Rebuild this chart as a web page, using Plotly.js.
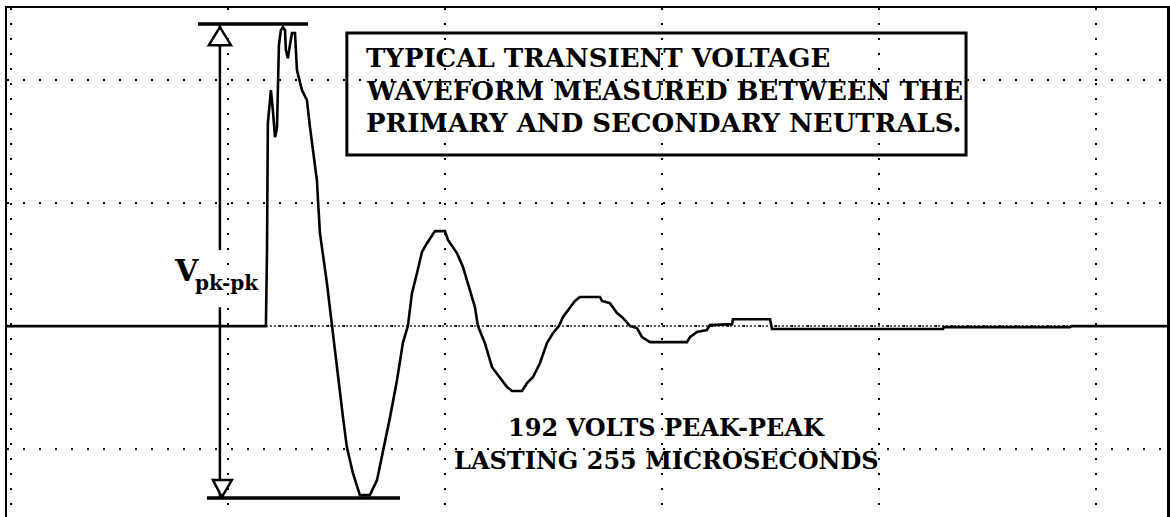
<!DOCTYPE html>
<html>
<head>
<meta charset="utf-8">
<script src="https://cdn.plot.ly/plotly-3.0.1.min.js"></script>
<style>
  html, body { margin: 0; padding: 0; background: #fff; }
  #chart { width: 1170px; height: 517px; }
</style>
</head>
<body>
<div id="chart"></div>
<script>
// ---- Data (time in microseconds, voltage in volts) ----
const timeUs = [
  -102, 17.5, 18.0, 18.4, 19.4, 19.8, 20.7, 21.7, 22.6, 23.0, 23.5, 24.4, 25.3, 26.3, 26.7,
  27.6, 28.6, 29.5, 30.9, 31.8, 34.1, 36.4, 37.8, 39.2, 41.0, 41.5, 42.4, 45.6, 47.9, 50.2,
  53.0, 54.8, 57.6, 60.8, 65.4, 68.7, 71.9, 74.7, 77.9, 80.6, 82.9, 84.8, 87.1, 89.4, 91.7,
  94.5, 95.4, 100.0, 101.4, 105.5, 108.3, 111.5, 113.8, 115.2, 118.4, 121.7, 125.3, 128.6, 130.9, 135.5,
  137.8, 140.6, 143.8, 147.0, 149.8, 152.5, 154.4, 157.6, 159.9, 162.2, 171.4, 172.4, 176.0, 179.3, 182.0,
  185.3, 188.5, 190.8, 194.5, 211.5, 212.9, 216.1, 220.7, 222.1, 232.3, 232.7, 249.8, 250.7, 329.5, 329.9,
  388.0, 388.9, 433
];
const voltsV = [
  0, 0, 30.9, 82.5, 91.9, 95.9, 87.8, 76.8, 80.5, 95.9, 114.2, 120.3, 121.5, 120.3, 112.2,
  108.9, 114.2, 119.1, 119.1, 104.1, 95.9, 91.9, 80.9, 70.3, 59.3, 51.2, 37.8, 17.5, 0, -16.7,
  -37.0, -49.2, -59.8, -68.7, -68.7, -62.6, -49.6, -37.0, -22.0, -6.9, 0, 13.4, 21.5, 30.1, 33.7,
  37.8, 38.6, 38.6, 35.0, 29.7, 24.0, 14.6, 7.7, 0, -6.9, -16.7, -20.7, -24.8, -26.4, -26.4,
  -23.2, -20.7, -15.0, -6.9, -2.8, 0, 3.7, 7.7, 10.2, 11.8, 11.8, 10.2, 9.3, 5.3, 3.3,
  0, -0.8, -4.5, -6.5, -6.5, -4.5, -2.4, -1.6, 0.4, 0.8, 2.8, 2.8, -1.2, -1.2, -0.4,
  -0.4, 0, 0
];
// zero reference (dotted) from trigger to end of record
const refTimeUs = [17.5, 433];
const refVoltsV = [0, 0];

// peak-to-peak markers
const vPeak = 122.8;
const vTrough = -69.9;
const captionLines = [
  "TYPICAL TRANSIENT VOLTAGE",
  "WAVEFORM MEASURED BETWEEN THE",
  "PRIMARY AND SECONDARY NEUTRALS."
];
const noteLines = ["192 VOLTS PEAK-PEAK", "LASTING 255 MICROSECONDS"];

// ---- Layout geometry (data coordinates) ----
const arrowX = -3.7;
const serif = "DejaVu Serif, Liberation Serif, serif";

const traces = [
  {
    x: refTimeUs, y: refVoltsV, mode: "lines", hoverinfo: "skip",
    line: { color: "#222", width: 1.5, dash: "2px,2px" }
  },
  {
    x: timeUs, y: voltsV, mode: "lines", hoverinfo: "skip",
    line: { color: "#000", width: 2.6 }
  }
];

const shapes = [
  // top and bottom peak bars
  { type: "line", xref: "x", yref: "y", x0: -13.8, x1: 36.9, y0: vPeak, y1: vPeak, line: { color: "#000", width: 3.5 } },
  { type: "line", xref: "x", yref: "y", x0: -9.7, x1: 79.3, y0: vTrough, y1: vTrough, line: { color: "#000", width: 3.5 } },
  // vertical dimension line (split around label)
  { type: "line", xref: "x", yref: "y", x0: arrowX, x1: arrowX, y0: vPeak, y1: 30.9, line: { color: "#000", width: 2.5 } },
  { type: "line", xref: "x", yref: "y", x0: arrowX, x1: arrowX, y0: 7.7, y1: vTrough, line: { color: "#000", width: 2.5 } },
  // arrowheads (hollow triangles)
  { type: "path", xref: "x", yref: "y",
    path: "M " + arrowX + " 121.5 L -8.8 114.2 L 1.4 114.2 Z",
    fillcolor: "#fff", line: { color: "#000", width: 2.5 } },
  { type: "path", xref: "x", yref: "y",
    path: "M -6.9 -62.6 L 1.8 -62.6 L -2.8 -69.5 Z",
    fillcolor: "#fff", line: { color: "#000", width: 2.5 } },
  // caption box
  { type: "rect", xref: "x", yref: "y", x0: 54.8, x1: 340.1, y0: 69.5, y1: 119.1,
    fillcolor: "rgba(0,0,0,0)", line: { color: "#000", width: 3 } }
];

const annotations = [
  { xref: "x", yref: "y", x: -19.0, y: 22.8, text: "<b>V</b>", showarrow: false,
    xanchor: "center", yanchor: "middle", font: { family: serif, size: 30, color: "#000" } },
  { xref: "x", yref: "y", x: -0.5, y: 17.5, text: "<b>pk-pk</b>", showarrow: false,
    xanchor: "center", yanchor: "middle", font: { family: serif, size: 20, color: "#000" } }
];
const captionY = [108.9, 95.5, 82.5];
captionLines.forEach((t, i) => annotations.push({
  xref: "x", yref: "y", x: 62.5, y: captionY[i], text: "<b>" + t + "</b>", showarrow: false,
  xanchor: "left", yanchor: "middle", font: { family: serif, size: 26, color: "#000" }
}));
const noteY = [-41.1, -54.5];
noteLines.forEach((t, i) => annotations.push({
  xref: "x", yref: "y", x: 202.3, y: noteY[i], text: "<b>" + t + "</b>", showarrow: false,
  xanchor: "center", yanchor: "middle", font: { family: serif, size: 24, color: "#000" }
}));

const layout = {
  width: 1170, height: 517,
  margin: { l: 7, r: 3, t: 8, b: 0, pad: 0 },
  paper_bgcolor: "#fff", plot_bgcolor: "#fff",
  showlegend: false,
  xaxis: {
    range: [-101.8, 432.7], tick0: 0, dtick: 100,
    showgrid: true, gridcolor: "#000", gridwidth: 1.6, griddash: "1.6px,13.4px",
    zeroline: false, showticklabels: false, ticks: "",
    showline: true, mirror: true, linecolor: "#000", linewidth: 2.5
  },
  yaxis: {
    range: [-77.6, 129.3], tick0: 0, dtick: 50,
    showgrid: true, gridcolor: "#000", gridwidth: 1.6, griddash: "1.6px,14.4px",
    zeroline: false, showticklabels: false, ticks: "",
    showline: true, mirror: true, linecolor: "#000", linewidth: 2.5
  },
  shapes: shapes,
  annotations: annotations
};

Plotly.newPlot("chart", traces, layout, { staticPlot: true, displayModeBar: false });
</script>
</body>
</html>
